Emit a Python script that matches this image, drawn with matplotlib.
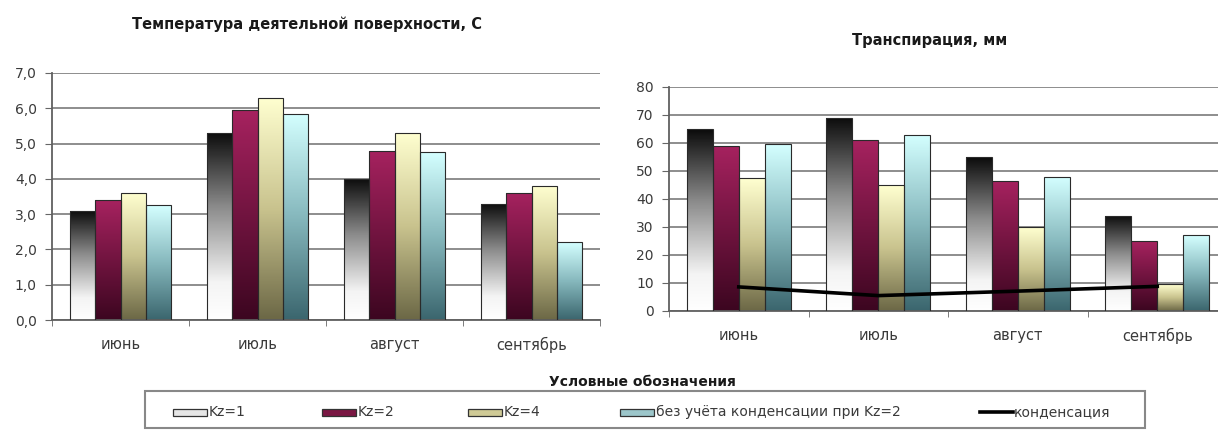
"""Температура деятельной поверхности и транспирация по месяцам (Kz=1/2/4)."""

import matplotlib

matplotlib.use("Agg")
import matplotlib.pyplot as plt
import numpy as np
from matplotlib.colors import LinearSegmentedColormap
from matplotlib.patches import Rectangle
from matplotlib.lines import Line2D

months = ["июнь", "июль", "август", "сентябрь"]
series = ["Kz=1", "Kz=2", "Kz=4", "без учёта конденсации при Kz=2"]

# температура деятельной поверхности, С
temp_kz1 = [3.1, 5.3, 4.0, 3.3]
temp_kz2 = [3.4, 5.95, 4.8, 3.6]
temp_kz4 = [3.6, 6.3, 5.3, 3.8]
temp_nocond = [3.25, 5.85, 4.75, 2.2]

# транспирация, мм
tr_kz1 = [65, 69, 55, 34]
tr_kz2 = [59, 61, 46.5, 25]
tr_kz4 = [47.5, 45, 30, 9.5]
tr_nocond = [59.5, 63, 48, 27]
condensation = [8.6, 5.5, 7.1, 8.8]

temp_ticks = [0, 1, 2, 3, 4, 5, 6, 7]
tr_ticks = [0, 10, 20, 30, 40, 50, 60, 70, 80]

# gradient stops (bottom -> top) for each series
grads = [
	[(0.0, "#ffffff"), (0.2, "#f4f4f4"), (0.6, "#8c8c8c"), (1.0, "#0c0c0c")],
	[(0.0, "#3c0620"), (1.0, "#a6225f")],
	[(0.0, "#6c6846"), (0.5, "#c9c38e"), (1.0, "#ffffd0")],
	[(0.0, "#3b666e"), (0.5, "#86b8bd"), (1.0, "#d4ffff")],
]
legend_colors = ["#e6e6e6", "#7a1743", "#cfca96", "#9cc6ca"]

plt.rcParams["font.family"] = ["DejaVu Sans"]
TXT = "#3a3a3a"

W, H = 1218, 430


def px(x0, y0, x1, y1):
	# pixel box (top-left origin) -> figure fraction rect
	return [x0 / W, 1 - y1 / H, (x1 - x0) / W, (y1 - y0) / H]


def grad_bar(ax, x, h, w, stops):
	bar = ax.bar(x, h, w, color="none", edgecolor="#2a2a2a", lw=0.8, zorder=3)[0]
	cmap = LinearSegmentedColormap.from_list("g", stops)
	img = ax.imshow(np.linspace(0, 1, 200).reshape(-1, 1), cmap=cmap, origin="lower",
		extent=[x - w / 2, x + w / 2, 0, h], aspect="auto", zorder=2.5, interpolation="bilinear")
	img.set_clip_path(bar)


def style(ax, ymax, ticks, fmt):
	ax.set_xlim(-0.5, 3.5)
	ax.set_ylim(0, ymax)
	ax.set_yticks(ticks)
	ax.set_yticklabels([fmt(t) for t in ticks], fontsize=10, color=TXT)
	ax.set_xticks(range(len(months)))
	ax.set_xticklabels(months, fontsize=10.5, color=TXT)
	ax.set_xticks([-0.5, 0.5, 1.5, 2.5, 3.5], minor=True)
	ax.tick_params(axis="x", which="major", length=0, pad=12)
	ax.tick_params(axis="x", which="minor", length=4, direction="out", color="#666666")
	ax.tick_params(axis="y", length=5, direction="out", color="#666666", pad=6)
	ax.yaxis.grid(True, color="#7a7a7a", lw=1.2)
	ax.set_axisbelow(True)
	for s in ("top", "right"):
		ax.spines[s].set_visible(False)
	for s in ("left", "bottom"):
		ax.spines[s].set_color("#606060")
		ax.spines[s].set_linewidth(1.3)


fig = plt.figure(figsize=(W / 100, H / 100), dpi=100)

bw = 0.186
ax1 = fig.add_axes(px(52, 73, 600, 320))
for i, vals in enumerate([temp_kz1, temp_kz2, temp_kz4, temp_nocond]):
	for j, v in enumerate(vals):
		grad_bar(ax1, j + (i - 1.5) * bw, v, bw, grads[i])
style(ax1, 7, temp_ticks, lambda t: f"{t:.1f}".replace(".", ","))

ax2 = fig.add_axes(px(669, 87, 1227, 311))
for i, vals in enumerate([tr_kz1, tr_kz2, tr_kz4, tr_nocond]):
	for j, v in enumerate(vals):
		grad_bar(ax2, j + (i - 1.5) * bw, v, bw, grads[i])
ax2.plot(range(len(months)), condensation, color="black", lw=2.6, zorder=4)
style(ax2, 80, tr_ticks, lambda t: f"{t}")

fig.text(307 / W, 1 - 24 / H, "Температура деятельной поверхности, С", ha="center", va="center",
	fontsize=10.5, fontweight="bold", color="#1a1a1a")
fig.text(930 / W, 1 - 40 / H, "Транспирация, мм", ha="center", va="center",
	fontsize=10.5, fontweight="bold", color="#1a1a1a")

# legend
fig.text(642 / W, 1 - 382 / H, "Условные обозначения", ha="center", va="center",
	fontsize=10, fontweight="bold", color="#1a1a1a")
fig.patches.append(Rectangle((145 / W, 1 - 428 / H), 1000 / W, 37 / H, transform=fig.transFigure,
	facecolor="white", edgecolor="#888888", lw=1.5))
patch_x = [173, 322, 468, 620]
for x, c, lab in zip(patch_x, legend_colors, series):
	fig.patches.append(Rectangle((x / W, 1 - 416 / H), 34 / W, 7 / H, transform=fig.transFigure,
		facecolor=c, edgecolor="#333333", lw=0.9))
	fig.text((x + 36) / W, 1 - 412 / H, lab, ha="left", va="center", fontsize=10, color=TXT)
fig.lines.append(Line2D([980 / W, 1013 / W], [1 - 412 / H, 1 - 412 / H], transform=fig.transFigure,
	color="black", lw=2.6))
fig.text(1014 / W, 1 - 412 / H, "конденсация", ha="left", va="center", fontsize=10, color=TXT)

fig.savefig("out.png", dpi=100)
